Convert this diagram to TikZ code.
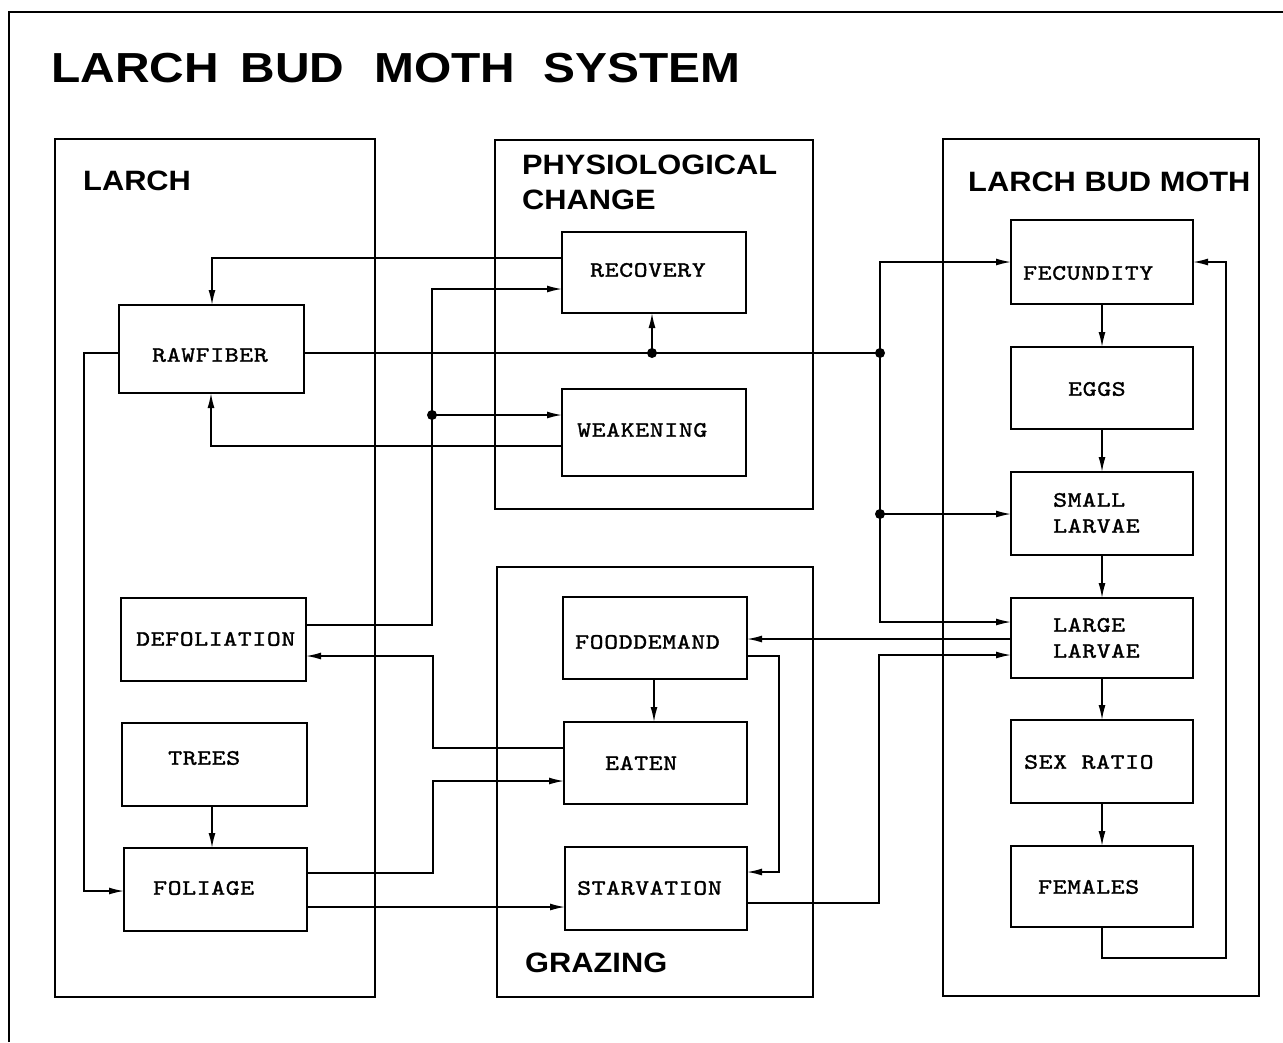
\documentclass[tikz,border=0pt]{standalone}
\usepackage{fontspec}
\usetikzlibrary{arrows.meta,fit}
\newfontfamily\hdfont[FakeStretch=1.1]{Liberation Sans}
\newfontfamily\ttlfont[FakeStretch=1.14]{Liberation Sans}
\newfontfamily\bxfont[FakeStretch=1.2,LetterSpace=3,FakeBold=1.5]{lmmono10-regular.otf}
\tikzset{
  frameline/.style={line width=2pt},
  container/.style={draw, line width=2.4pt, inner sep=0pt, outer sep=0pt},
  bx/.style={draw, line width=2.2pt, inner sep=0pt, outer sep=0pt},
  bxtext/.style={anchor=west, inner sep=0pt, align=left, font={\bxfont\fontsize{22pt}{26pt}\selectfont}},
  head/.style={anchor=west, inner sep=0pt, align=left, font={\hdfont\bfseries\fontsize{28pt}{35pt}\selectfont}},
  conn/.style={line width=1.5pt},
  arr/.style={conn, -{Latex[length=15pt,width=7pt]}},
  dot/.style={circle, fill, inner sep=0pt, minimum size=10pt},
}
\newcommand\mkbox[6]{%
  \coordinate (#1-nw) at (#3,#4);
  \coordinate (#1-se) at (#5,#6);
  \node[#2, fit=(#1-nw)(#1-se)] (#1) {};}
\begin{document}
\begin{tikzpicture}[x=1pt,y=-1pt]
\useasboundingbox (0,0) rectangle (1283,1042);
% outer frame
\coordinate (fr-a) at (9,1042);
\coordinate (fr-b) at (9,12);
\coordinate (fr-c) at (1283,12);
\draw[frameline] (fr-a) -- (fr-b) -- (fr-c);
% title
\node[anchor=west, inner sep=0pt, font={\ttlfont\bfseries\fontsize{42pt}{48pt}\selectfont}] (title) at (51,68)
  {LARCH\hspace{22pt}BUD\hspace{30pt}MOTH\hspace{28pt}SYSTEM};
% containers
\mkbox{larch}{container}{55}{139}{375}{997}
\mkbox{phys}{container}{495}{140}{813}{509}
\mkbox{moth}{container}{943}{139}{1259}{996}
\mkbox{graz}{container}{497}{567}{813}{997}
\node[head] (larch-l) at (83,181) {LARCH};
\node[head] (phys-l) at (522,182) {PHYSIOLOGICAL\\CHANGE};
\node[head] (moth-l) at (968,182) {LARCH BUD MOTH};
\node[head] (graz-l) at (525,963) {GRAZING};
% boxes
\mkbox{raw}{bx}{119}{305}{304}{393}
\mkbox{def}{bx}{121}{598}{306}{681}
\mkbox{trees}{bx}{122}{723}{307}{806}
\mkbox{fol}{bx}{124}{848}{307}{931}
\mkbox{rec}{bx}{562}{232}{746}{313}
\mkbox{weak}{bx}{562}{389}{746}{476}
\mkbox{food}{bx}{563}{597}{747}{679}
\mkbox{eat}{bx}{564}{722}{747}{804}
\mkbox{starv}{bx}{565}{847}{747}{930}
\mkbox{fec}{bx}{1011}{220}{1193}{304}
\mkbox{eggs}{bx}{1011}{347}{1193}{429}
\mkbox{small}{bx}{1011}{472}{1193}{555}
\mkbox{large}{bx}{1011}{598}{1193}{678}
\mkbox{sex}{bx}{1011}{720}{1193}{803}
\mkbox{fem}{bx}{1011}{846}{1193}{927}
% box texts
\node[bxtext] (raw-t) at (152,355) {RAWFIBER};
\node[bxtext] (def-t) at (136,639) {DEFOLIATION};
\node[bxtext] (trees-t) at (168,758) {TREES};
\node[bxtext] (fol-t) at (153,888) {FOLIAGE};
\node[bxtext] (rec-t) at (590,270) {RECOVERY};
\node[bxtext] (weak-t) at (577,430) {WEAKENING};
\node[bxtext] (food-t) at (575,642) {FOODDEMAND};
\node[bxtext] (eat-t) at (605,763) {EATEN};
\node[bxtext] (starv-t) at (577,888) {STARVATION};
\node[bxtext] (fec-t) at (1023,273) {FECUNDITY};
\node[bxtext] (eggs-t) at (1068,389) {EGGS};
\node[bxtext] (small-t) at (1053,513) {SMALL\\LARVAE};
\node[bxtext] (large-t) at (1053,638) {LARGE\\LARVAE};
\node[bxtext] (sex-t) at (1024,762) {SEX RATIO};
\node[bxtext] (fem-t) at (1038,887) {FEMALES};
% junction and bend coordinates
\coordinate (j1) at (432,415);
\coordinate (j2) at (652,353);
\coordinate (j3) at (880,353);
\coordinate (j4) at (880,514);
\coordinate (t1) at (880,262);
\coordinate (t2) at (880,622);
\coordinate (k1) at (84,891);
\coordinate (k2) at (433,656);
\coordinate (k3) at (433,781);
\coordinate (k4) at (779,872);
\coordinate (k5) at (879,655);
\coordinate (k6) at (1226,958);
% connectors
\draw[arr] (rec.west |- 0,258) -| (raw.north -| 212,0);
\draw[arr] (def.east |- 0,625) -| (j1) |- (rec.west |- 0,289);
\draw[arr] (j1) -- (weak.west |- j1);
\draw[arr] (weak.west |- 0,446) -| (raw.south -| 211,0);
\draw[conn] (raw.east |- j2) -- (j3);
\draw[arr] (j2) -- (rec.south -| j2);
\draw[arr] (j3) -- (t1) -- (fec.west |- t1);
\draw[arr] (j3) -- (t2) -- (large.west |- t2);
\draw[arr] (j4) -- (small.west |- j4);
\draw[arr] (raw.west |- j2) -| (k1) -- (fol.west |- k1);
\draw[arr] (large.west |- 0,639) -- (food.east |- 0,639);
\draw[arr] (eat.west |- 0,748) -| (k2) -- (def.east |- k2);
\draw[arr] (fol.east |- 0,873) -| (k3) -- (eat.west |- k3);
\draw[arr] (fol.east |- 0,907) -- (starv.west |- 0,907);
\draw[arr] (food.east |- 0,656) -| (k4) -- (starv.east |- k4);
\draw[arr] (starv.east |- 0,903) -| (k5) -- (large.west |- k5);
\draw[arr] (fem.south) |- (k6) |- (fec.east |- t1);
\draw[arr] (fec.south) -- (eggs.north);
\draw[arr] (eggs.south) -- (small.north);
\draw[arr] (small.south) -- (large.north);
\draw[arr] (large.south) -- (sex.north);
\draw[arr] (sex.south) -- (fem.north);
\draw[arr] (trees.south -| 212,0) -- (fol.north -| 212,0);
\draw[arr] (food.south -| 654,0) -- (eat.north -| 654,0);
% junction dots
\node[dot] (d1) at (j1) {};
\node[dot] (d2) at (j2) {};
\node[dot] (d3) at (j3) {};
\node[dot] (d4) at (j4) {};
\end{tikzpicture}
\end{document}
